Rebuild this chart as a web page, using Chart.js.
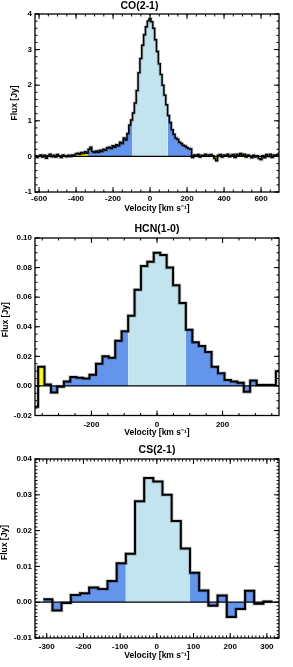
<!DOCTYPE html>
<html>
<head>
<meta charset="utf-8">
<script src="https://cdn.jsdelivr.net/npm/chart.js@4.4.1/dist/chart.umd.min.js"></script>
<style>
  body { margin: 0; background: #fff; }
  #wrap { position: relative; width: 293px; height: 667px; }
  canvas { position: absolute; left: 0; }
</style>
</head>
<body>
<div id="wrap">
  <canvas id="co" width="293" height="222" style="top:0px"></canvas>
  <canvas id="hcn" width="293" height="222" style="top:222px"></canvas>
  <canvas id="cs" width="293" height="223" style="top:444px"></canvas>
</div>
<script>
// channel centres [km/s] and flux [Jy]
const coVel = [
  -620, -610, -600, -590, -580, -570, -560, -550, -540, -530, -520, -510, -500, -490, -480, -470, -460, -450, -440, -430, -420, -410,
  -400, -390, -380, -370, -360, -350, -340,
  -330, -320, -310, -300, -290, -280, -270, -260, -250, -240, -230, -220, -210, -200, -190, -180, -170, -160, -150, -140, -130, -120, -110, -100,
  -90, -80, -70, -60, -50, -40, -30, -20, -10, 0, 10, 20, 30, 40, 50, 60, 70, 80, 90,
  100, 110, 120, 130, 140, 150, 160, 170, 180, 190, 200, 210, 220,
  230, 240, 250, 260, 270, 280, 290, 300, 310, 320, 330, 340,
  350, 360, 370, 380, 390, 400, 410, 420, 430, 440, 450, 460, 470, 480, 490, 500, 510, 520,
  530, 540, 550, 560, 570, 580, 590, 600, 610, 620, 630, 640, 650, 660, 670, 680, 690, 700
]
const coFlux = [
  0.02, -0.03, 0.01, 0.04, -0.02, 0.03, -0.05, 0.02, 0.06, -0.01, 0.03, -0.02, 0.05, 0.01, -0.03, 0.04, 0.02, -0.01, 0.03, 0.00, 0.04, 0.02,
  0.07, 0.09, 0.06, 0.11, 0.08, 0.13, 0.09,
  0.20, 0.26, 0.14, 0.11, 0.15, 0.12, 0.17, 0.14, 0.20, 0.17, 0.24, 0.26, 0.22, 0.30, 0.26, 0.33, 0.30, 0.40, 0.36, 0.52, 0.46, 0.64, 0.88, 1.02,
  1.22, 1.50, 1.85, 2.35, 2.75, 3.12, 3.42, 3.64, 3.80, 3.87, 3.78, 3.60, 3.28, 2.95, 2.60, 2.30, 2.00, 1.72, 1.45,
  1.15, 0.95, 0.75, 0.62, 0.52, 0.48, 0.40, 0.36, 0.31, 0.29, 0.25, 0.22, 0.21,
  -0.03, 0.04, 0.01, 0.05, -0.02, 0.03, 0.02, 0.06, 0.01, 0.04, 0.05, 0.02,
  -0.06, -0.12, 0.03, 0.05, -0.02, 0.04, 0.02, 0.06, -0.01, 0.03, 0.05, -0.03, 0.06, 0.02, 0.08, 0.03, 0.06, -0.02,
  0.04, 0.01, -0.04, 0.03, -0.02, 0.02, -0.06, -0.09, 0.02, -0.04, 0.05, 0.00, 0.06, -0.03, 0.04, 0.02, 0.05, 0.08
]

const hcnVel = [
  -372, -353, -333, -314, -294, -274, -255, -235, -216, -196, -176, -157, -137, -118, -98, -78, -59, -39, -20,
  0, 20, 39, 59, 78, 98, 118, 137, 157, 176, 196, 216, 235, 255, 274, 294, 314, 333, 353, 372
]
const hcnFlux = [
  -0.014, 0.013, 0.001, -0.0045, -0.0005, 0.003, 0.006, 0.0055, 0.005, 0.0075, 0.015, 0.020, 0.019, 0.0305, 0.037, 0.0475, 0.065, 0.081, 0.084,
  0.090, 0.0885, 0.080, 0.068, 0.056, 0.038, 0.0295, 0.027, 0.023, 0.013, 0.0085, 0.004, 0.003, 0.0022, -0.004, 0.0036, 0.0007, 0.0007, 0.0007, 0.010
]

const csVel = [
  -297, -272, -247, -222, -197, -172, -147, -122, -97, -72, -47, -22, 3,
  28, 53, 78, 103, 128, 153, 178, 203, 228, 253, 278, 303
]
const csFlux = [
  0.0008, -0.0023, -0.0002, 0.002, 0.0025, 0.0041, 0.0037, 0.0059, 0.0109, 0.0135, 0.0282, 0.0347, 0.0337,
  0.0300, 0.0227, 0.0150, 0.0082, 0.0033, -0.0010, 0.0019, -0.0041, -0.0019, 0.0032, -0.0004, 0.0002
]

// velocity windows: line core, line wings, and where the leftover channels get shaded
const coWindows = { core: [-95, 95], wing: [-335, 345], rest: [-1000, 1000] }
const hcnWindows = { core: [-85, 85], wing: [-340, 300], rest: [-362, -340] }
const csWindows = { core: [-85, 85], wing: [-320, 320], rest: [0, 0] }

// axis ranges and tick steps
const coAxes = { x: [-622, 697], y: [-1, 4], xStep: 200, xMinor: 50, yStep: 1, yMinor: 0.2 }
const hcnAxes = { x: [-372, 372], y: [-0.02, 0.10], xStep: 200, xMinor: 50, yStep: 0.02, yMinor: 0.005 }
const csAxes = { x: [-332, 333], y: [-0.01, 0.04], xStep: 100, xMinor: 10, yStep: 0.01, yMinor: 0.001 }

const FONT = "'Liberation Sans', Arial, Helvetica, sans-serif"
const CORE = '#c2e4ee'
const WING = '#6495ed'
const REST = '#ffff00'

// points at left bin edges (plus the last right edge), drawn with stepped lines
function histPoints(vel, flux) {
  const pts = []
  const n = vel.length
  for (let i = 0; i < n; i++) {
    const lo = i === 0 ? vel[0] - (vel[1] - vel[0]) / 2 : (vel[i - 1] + vel[i]) / 2
    pts.push({ x: lo, y: flux[i] })
  }
  pts.push({ x: vel[n - 1] + (vel[n - 1] - vel[n - 2]) / 2, y: flux[n - 1] })
  return pts
}

function inside(v, r) { return v >= r[0] && v <= r[1] }

function shadeRuns(vel, flux, win) {
  const pts = histPoints(vel, flux)
  const colorOf = v => inside(v, win.core) ? CORE : inside(v, win.wing) ? WING : inside(v, win.rest) ? REST : null
  const runs = []
  let i = 0
  while (i < vel.length) {
    const c = colorOf(vel[i])
    let j = i
    while (j + 1 < vel.length && colorOf(vel[j + 1]) === c) j++
    if (c) {
      const data = pts.slice(i, j + 1)
      data.push({ x: pts[j + 1].x, y: flux[j] })
      runs.push({ color: c, data: data })
    }
    i = j + 1
  }
  return runs
}

// IDL-like frame: box with inward major/minor ticks on all four sides, plus the y title
const boxTicks = {
  id: 'boxTicks',
  afterDatasetsDraw(chart, args, opts) {
    const { ctx, chartArea: a, scales } = chart
    ctx.save()
    ctx.strokeStyle = '#000'
    const mark = (scale, step, len) => {
      ctx.lineWidth = 1
      ctx.beginPath()
      for (let k = Math.ceil(scale.min / step - 1e-6); k * step <= scale.max + step * 1e-6; k++) {
        const p = scale.getPixelForValue(k * step)
        if (scale.isHorizontal()) {
          ctx.moveTo(p, a.bottom); ctx.lineTo(p, a.bottom - len)
          ctx.moveTo(p, a.top); ctx.lineTo(p, a.top + len)
        } else {
          ctx.moveTo(a.left, p); ctx.lineTo(a.left + len, p)
          ctx.moveTo(a.right, p); ctx.lineTo(a.right - len, p)
        }
      }
      ctx.stroke()
    }
    mark(scales.x, opts.xMinor, 2.5)
    mark(scales.x, opts.xStep, 5)
    mark(scales.y, opts.yMinor, 2.5)
    mark(scales.y, opts.yStep, 5)
    ctx.lineWidth = 1.3
    ctx.strokeRect(a.left, a.top, a.right - a.left, a.bottom - a.top)

    ctx.translate(opts.ytX, (a.top + a.bottom) / 2 + opts.ytDy)
    ctx.rotate(-Math.PI / 2)
    ctx.fillStyle = '#000'
    ctx.font = 'bold 8.5px ' + FONT
    ctx.textAlign = 'center'
    ctx.textBaseline = 'middle'
    ctx.fillText('Flux [Jy]', 0, 0)
    ctx.restore()
  }
}

function makeChart(id, title, vel, flux, win, ax, lay) {
  const datasets = []
  shadeRuns(vel, flux, win).forEach(r => {
    datasets.push({ data: r.data, stepped: true, fill: 'origin', backgroundColor: r.color,
      borderColor: 'rgba(0,0,0,0)', borderWidth: 0, pointRadius: 0, order: 3, clip: 0 })
  })
  // zero level
  datasets.push({ data: [{ x: ax.x[0], y: 0 }, { x: ax.x[1], y: 0 }], borderColor: '#000', borderWidth: 1.2,
    pointRadius: 0, fill: false, order: 2, clip: 0 })
  const spec = histPoints(vel, flux)
  // soft grey edge round the histogram line, as in the scanned figure
  datasets.push({ data: spec, stepped: true, fill: false, borderColor: 'rgba(0,0,0,0.22)',
    borderWidth: lay.lw + 1.6, pointRadius: 0, order: 1, clip: 0 })
  datasets.push({ data: spec, stepped: true, fill: false, borderColor: '#000',
    borderWidth: lay.lw, pointRadius: 0, order: 0, clip: 0 })

  return new Chart(document.getElementById(id), {
    type: 'line',
    data: { datasets: datasets },
    plugins: [boxTicks],
    options: {
      responsive: false,
      animation: false,
      devicePixelRatio: 1,
      layout: { padding: { left: 0, right: 14, top: 0, bottom: 0 } },
      plugins: {
        legend: { display: false },
        tooltip: { enabled: false },
        title: { display: true, text: title, color: '#000', fullSize: lay.fullTitle,
          font: { family: FONT, size: 10.5, weight: 'bold' }, padding: { top: lay.tTop, bottom: lay.tBot } },
        boxTicks: { xStep: ax.xStep, xMinor: ax.xMinor, yStep: ax.yStep, yMinor: ax.yMinor, ytX: lay.ytX, ytDy: lay.ytDy }
      },
      scales: {
        x: {
          type: 'linear', min: ax.x[0], max: ax.x[1],
          grid: { display: false, drawTicks: false }, border: { display: false },
          ticks: { stepSize: ax.xStep, includeBounds: false, padding: lay.xPad, color: '#000', maxRotation: 0, autoSkip: false,
            font: { family: FONT, size: 8, weight: 'bold' }, callback: v => String(v) },
          title: { display: true, text: 'Velocity [km s⁻¹]', color: '#000',
            font: { family: FONT, size: 8.5, weight: 'bold' }, padding: { top: 0, bottom: lay.xtPad } },
          afterFit: sc => { sc.height = lay.xH; sc.paddingLeft = 0; sc.paddingRight = 0 }
        },
        y: {
          min: ax.y[0], max: ax.y[1],
          grid: { display: false, drawTicks: false }, border: { display: false },
          ticks: { stepSize: ax.yStep, padding: 3, color: '#000', autoSkip: false,
            font: { family: FONT, size: 8, weight: 'bold' }, callback: v => lay.yFmt(v) },
          title: { display: false },
          afterFit: sc => { sc.width = 35; sc.paddingTop = 0; sc.paddingBottom = 0 }
        }
      }
    }
  })
}

makeChart('co', 'CO(2-1)', coVel, coFlux, coWindows, coAxes,
  { lw: 1.5, fullTitle: true, tTop: 0, tBot: 1.4, xH: 30, xPad: 2.2, xtPad: 7.9, ytX: 15, ytDy: 0, yFmt: v => String(Math.round(v)) })
makeChart('hcn', 'HCN(1-0)', hcnVel, hcnFlux, hcnWindows, hcnAxes,
  { lw: 2, fullTitle: false, tTop: 0.7, tBot: 2.7, xH: 28.5, xPad: 4, xtPad: 5.9, ytX: 6, ytDy: -7, yFmt: v => v.toFixed(2) })
makeChart('cs', 'CS(2-1)', csVel, csFlux, csWindows, csAxes,
  { lw: 2, fullTitle: false, tTop: 0, tBot: 2.4, xH: 29, xPad: 4.2, xtPad: 6.4, ytX: 5, ytDy: -6, yFmt: v => v.toFixed(2) })
</script>
</body>
</html>
